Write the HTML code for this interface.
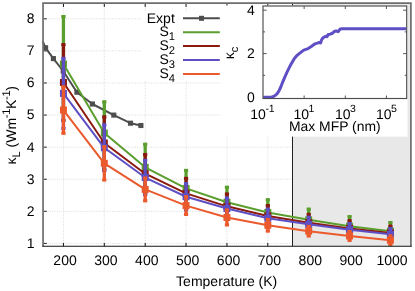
<!DOCTYPE html>
<html lang="en"><head><meta charset="utf-8"><title>Thermal conductivity vs temperature</title>
<style>html,body{margin:0;padding:0;background:#fff;}svg{display:block;will-change:transform;}text{text-rendering:geometricPrecision;}</style></head>
<body>
<svg width="415" height="291" viewBox="0 0 415 291" font-family="'Liberation Sans', sans-serif" font-size="14.0px" fill="#000">
<rect x="0" y="0" width="415" height="291" fill="#fff"/>
<g stroke="#dbdbdb" stroke-width="1" stroke-dasharray="1,1.3" fill="none">
<line x1="63.44" y1="3.1" x2="63.44" y2="246.25"/>
<line x1="104.31" y1="3.1" x2="104.31" y2="246.25"/>
<line x1="145.19" y1="3.1" x2="145.19" y2="246.25"/>
<line x1="186.06" y1="3.1" x2="186.06" y2="246.25"/>
<line x1="226.94" y1="3.1" x2="226.94" y2="246.25"/>
<line x1="267.81" y1="3.1" x2="267.81" y2="246.25"/>
<line x1="308.68" y1="3.1" x2="308.68" y2="246.25"/>
<line x1="349.56" y1="3.1" x2="349.56" y2="246.25"/>
<line x1="390.43" y1="3.1" x2="390.43" y2="246.25"/>
<line x1="43.0" y1="243.43" x2="410.87" y2="243.43"/>
<line x1="43.0" y1="211.34" x2="410.87" y2="211.34"/>
<line x1="43.0" y1="179.25" x2="410.87" y2="179.25"/>
<line x1="43.0" y1="147.16" x2="410.87" y2="147.16"/>
<line x1="43.0" y1="115.07" x2="410.87" y2="115.07"/>
<line x1="43.0" y1="82.98" x2="410.87" y2="82.98"/>
<line x1="43.0" y1="50.89" x2="410.87" y2="50.89"/>
<line x1="43.0" y1="18.80" x2="410.87" y2="18.80"/>
</g>
<g stroke="#111" stroke-width="1">
<line x1="63.44" y1="3.9000000000000004" x2="63.44" y2="6.9"/>
<line x1="63.44" y1="246.25" x2="63.44" y2="242.95"/>
<line x1="104.31" y1="3.9000000000000004" x2="104.31" y2="6.9"/>
<line x1="104.31" y1="246.25" x2="104.31" y2="242.95"/>
<line x1="145.19" y1="3.9000000000000004" x2="145.19" y2="6.9"/>
<line x1="145.19" y1="246.25" x2="145.19" y2="242.95"/>
<line x1="186.06" y1="3.9000000000000004" x2="186.06" y2="6.9"/>
<line x1="186.06" y1="246.25" x2="186.06" y2="242.95"/>
<line x1="226.94" y1="3.9000000000000004" x2="226.94" y2="6.9"/>
<line x1="226.94" y1="246.25" x2="226.94" y2="242.95"/>
<line x1="267.81" y1="3.9000000000000004" x2="267.81" y2="6.9"/>
<line x1="267.81" y1="246.25" x2="267.81" y2="242.95"/>
<line x1="308.68" y1="3.9000000000000004" x2="308.68" y2="6.9"/>
<line x1="308.68" y1="246.25" x2="308.68" y2="242.95"/>
<line x1="349.56" y1="3.9000000000000004" x2="349.56" y2="6.9"/>
<line x1="349.56" y1="246.25" x2="349.56" y2="242.95"/>
<line x1="390.43" y1="3.9000000000000004" x2="390.43" y2="6.9"/>
<line x1="390.43" y1="246.25" x2="390.43" y2="242.95"/>
</g>
<g stroke="#333" stroke-width="1.1">
<line x1="43.849999999999994" y1="243.43" x2="46.75" y2="243.43"/>
<line x1="43.849999999999994" y1="211.34" x2="46.75" y2="211.34"/>
<line x1="43.849999999999994" y1="179.25" x2="46.75" y2="179.25"/>
<line x1="43.849999999999994" y1="147.16" x2="46.75" y2="147.16"/>
<line x1="43.849999999999994" y1="115.07" x2="46.75" y2="115.07"/>
<line x1="43.849999999999994" y1="82.98" x2="46.75" y2="82.98"/>
<line x1="43.849999999999994" y1="50.89" x2="46.75" y2="50.89"/>
<line x1="43.849999999999994" y1="18.80" x2="46.75" y2="18.80"/>
</g>
<rect x="292.5" y="3.1" width="118.37" height="243.15" fill="#e8e8e8"/>
<line x1="292.5" y1="3.1" x2="292.5" y2="246.25" stroke="#222" stroke-width="1"/>
<g stroke="#4d4d4d" fill="#4d4d4d">
<polyline points="42.75,41.50 45.60,47.80 53.40,58.60 63.20,71.00 76.90,92.20 92.40,104.00 113.80,115.10 130.50,123.20 140.90,125.50" fill="none" stroke-width="2.0" stroke-linejoin="round"/>
<rect x="43.05" y="45.25" width="5.1" height="5.1" stroke="none"/>
<rect x="50.85" y="56.05" width="5.1" height="5.1" stroke="none"/>
<rect x="60.65" y="68.45" width="5.1" height="5.1" stroke="none"/>
<rect x="74.35" y="89.65" width="5.1" height="5.1" stroke="none"/>
<rect x="89.85" y="101.45" width="5.1" height="5.1" stroke="none"/>
<rect x="111.25" y="112.55" width="5.1" height="5.1" stroke="none"/>
<rect x="127.95" y="120.65" width="5.1" height="5.1" stroke="none"/>
<rect x="138.35" y="122.95" width="5.1" height="5.1" stroke="none"/>
</g>
<g stroke="#5a9e2e" fill="#5a9e2e">
<polyline points="63.44,63.94 104.31,133.06 145.19,167.30 186.06,188.42 226.94,202.18 267.81,212.42 308.68,219.78 349.56,226.18 390.43,231.14" fill="none" stroke-width="2.0" stroke-linejoin="round"/>
<line x1="63.44" y1="14.98" x2="63.44" y2="112.90" stroke-width="3.3"/>
<rect x="61.34" y="14.98" width="4.2" height="3" stroke="none"/>
<rect x="61.34" y="109.90" width="4.2" height="3" stroke="none"/>
<rect x="59.94" y="60.44" width="7" height="7" stroke="none"/>
<line x1="104.31" y1="100.42" x2="104.31" y2="165.70" stroke-width="3.3"/>
<rect x="102.21" y="100.42" width="4.2" height="3" stroke="none"/>
<rect x="102.21" y="162.70" width="4.2" height="3" stroke="none"/>
<rect x="100.81" y="129.56" width="7" height="7" stroke="none"/>
<line x1="145.19" y1="142.79" x2="145.19" y2="191.81" stroke-width="3.3"/>
<rect x="143.09" y="142.79" width="4.2" height="3" stroke="none"/>
<rect x="143.09" y="188.81" width="4.2" height="3" stroke="none"/>
<rect x="141.69" y="163.80" width="7" height="7" stroke="none"/>
<line x1="186.06" y1="168.90" x2="186.06" y2="207.94" stroke-width="3.3"/>
<rect x="183.96" y="168.90" width="4.2" height="3" stroke="none"/>
<rect x="183.96" y="204.94" width="4.2" height="3" stroke="none"/>
<rect x="182.56" y="184.92" width="7" height="7" stroke="none"/>
<line x1="226.94" y1="185.80" x2="226.94" y2="218.56" stroke-width="3.3"/>
<rect x="224.84" y="185.80" width="4.2" height="3" stroke="none"/>
<rect x="224.84" y="215.56" width="4.2" height="3" stroke="none"/>
<rect x="223.44" y="198.68" width="7" height="7" stroke="none"/>
<line x1="267.81" y1="198.31" x2="267.81" y2="226.53" stroke-width="3.3"/>
<rect x="265.71" y="198.31" width="4.2" height="3" stroke="none"/>
<rect x="265.71" y="223.53" width="4.2" height="3" stroke="none"/>
<rect x="264.31" y="208.92" width="7" height="7" stroke="none"/>
<line x1="308.68" y1="207.70" x2="308.68" y2="231.86" stroke-width="3.3"/>
<rect x="306.58" y="207.70" width="4.2" height="3" stroke="none"/>
<rect x="306.58" y="228.86" width="4.2" height="3" stroke="none"/>
<rect x="305.18" y="216.28" width="7" height="7" stroke="none"/>
<line x1="349.56" y1="215.11" x2="349.56" y2="237.25" stroke-width="3.3"/>
<rect x="347.46" y="215.11" width="4.2" height="3" stroke="none"/>
<rect x="347.46" y="234.25" width="4.2" height="3" stroke="none"/>
<rect x="346.06" y="222.68" width="7" height="7" stroke="none"/>
<line x1="390.43" y1="221.00" x2="390.43" y2="241.28" stroke-width="3.3"/>
<rect x="388.33" y="221.00" width="4.2" height="3" stroke="none"/>
<rect x="388.33" y="238.28" width="4.2" height="3" stroke="none"/>
<rect x="386.93" y="227.64" width="7" height="7" stroke="none"/>
</g>
<g stroke="#8b1a0e" fill="#8b1a0e">
<polyline points="63.44,82.50 104.31,142.98 145.19,173.70 186.06,193.38 226.94,206.34 267.81,215.94 308.68,222.66 349.56,228.42 390.43,232.90" fill="none" stroke-width="2.0" stroke-linejoin="round"/>
<line x1="63.44" y1="43.14" x2="63.44" y2="121.86" stroke-width="3.3"/>
<rect x="61.34" y="43.14" width="4.2" height="3" stroke="none"/>
<rect x="61.34" y="118.86" width="4.2" height="3" stroke="none"/>
<rect x="59.94" y="79.00" width="7" height="7" stroke="none"/>
<line x1="104.31" y1="115.46" x2="104.31" y2="170.50" stroke-width="3.3"/>
<rect x="102.21" y="115.46" width="4.2" height="3" stroke="none"/>
<rect x="102.21" y="167.50" width="4.2" height="3" stroke="none"/>
<rect x="100.81" y="139.48" width="7" height="7" stroke="none"/>
<line x1="145.19" y1="153.09" x2="145.19" y2="194.31" stroke-width="3.3"/>
<rect x="143.09" y="153.09" width="4.2" height="3" stroke="none"/>
<rect x="143.09" y="191.31" width="4.2" height="3" stroke="none"/>
<rect x="141.69" y="170.20" width="7" height="7" stroke="none"/>
<line x1="186.06" y1="176.90" x2="186.06" y2="209.86" stroke-width="3.3"/>
<rect x="183.96" y="176.90" width="4.2" height="3" stroke="none"/>
<rect x="183.96" y="206.86" width="4.2" height="3" stroke="none"/>
<rect x="182.56" y="189.88" width="7" height="7" stroke="none"/>
<line x1="226.94" y1="192.58" x2="226.94" y2="220.10" stroke-width="3.3"/>
<rect x="224.84" y="192.58" width="4.2" height="3" stroke="none"/>
<rect x="224.84" y="217.10" width="4.2" height="3" stroke="none"/>
<rect x="223.44" y="202.84" width="7" height="7" stroke="none"/>
<line x1="267.81" y1="204.10" x2="267.81" y2="227.78" stroke-width="3.3"/>
<rect x="265.71" y="204.10" width="4.2" height="3" stroke="none"/>
<rect x="265.71" y="224.78" width="4.2" height="3" stroke="none"/>
<rect x="264.31" y="212.44" width="7" height="7" stroke="none"/>
<line x1="308.68" y1="212.90" x2="308.68" y2="232.42" stroke-width="3.3"/>
<rect x="306.58" y="212.90" width="4.2" height="3" stroke="none"/>
<rect x="306.58" y="229.42" width="4.2" height="3" stroke="none"/>
<rect x="305.18" y="219.16" width="7" height="7" stroke="none"/>
<line x1="349.56" y1="219.20" x2="349.56" y2="237.64" stroke-width="3.3"/>
<rect x="347.46" y="219.20" width="4.2" height="3" stroke="none"/>
<rect x="347.46" y="234.64" width="4.2" height="3" stroke="none"/>
<rect x="346.06" y="224.92" width="7" height="7" stroke="none"/>
<line x1="390.43" y1="224.71" x2="390.43" y2="241.09" stroke-width="3.3"/>
<rect x="388.33" y="224.71" width="4.2" height="3" stroke="none"/>
<rect x="388.33" y="238.09" width="4.2" height="3" stroke="none"/>
<rect x="386.93" y="229.40" width="7" height="7" stroke="none"/>
</g>
<g stroke="#5e4fc5" fill="#5e4fc5">
<polyline points="63.44,93.38 104.31,147.78 145.19,177.54 186.06,196.74 226.94,208.58 267.81,218.18 308.68,224.26 349.56,229.70 390.43,234.34" fill="none" stroke-width="2.0" stroke-linejoin="round"/>
<line x1="63.44" y1="56.90" x2="63.44" y2="129.86" stroke-width="3.3"/>
<rect x="61.34" y="56.90" width="4.2" height="3" stroke="none"/>
<rect x="61.34" y="126.86" width="4.2" height="3" stroke="none"/>
<rect x="59.94" y="89.88" width="7" height="7" stroke="none"/>
<line x1="104.31" y1="123.46" x2="104.31" y2="172.10" stroke-width="3.3"/>
<rect x="102.21" y="123.46" width="4.2" height="3" stroke="none"/>
<rect x="102.21" y="169.10" width="4.2" height="3" stroke="none"/>
<rect x="100.81" y="144.28" width="7" height="7" stroke="none"/>
<line x1="145.19" y1="158.90" x2="145.19" y2="196.18" stroke-width="3.3"/>
<rect x="143.09" y="158.90" width="4.2" height="3" stroke="none"/>
<rect x="143.09" y="193.18" width="4.2" height="3" stroke="none"/>
<rect x="141.69" y="174.04" width="7" height="7" stroke="none"/>
<line x1="186.06" y1="182.02" x2="186.06" y2="211.46" stroke-width="3.3"/>
<rect x="183.96" y="182.02" width="4.2" height="3" stroke="none"/>
<rect x="183.96" y="208.46" width="4.2" height="3" stroke="none"/>
<rect x="182.56" y="193.24" width="7" height="7" stroke="none"/>
<line x1="226.94" y1="196.61" x2="226.94" y2="220.55" stroke-width="3.3"/>
<rect x="224.84" y="196.61" width="4.2" height="3" stroke="none"/>
<rect x="224.84" y="217.55" width="4.2" height="3" stroke="none"/>
<rect x="223.44" y="205.08" width="7" height="7" stroke="none"/>
<line x1="267.81" y1="207.72" x2="267.81" y2="228.64" stroke-width="3.3"/>
<rect x="265.71" y="207.72" width="4.2" height="3" stroke="none"/>
<rect x="265.71" y="225.64" width="4.2" height="3" stroke="none"/>
<rect x="264.31" y="214.68" width="7" height="7" stroke="none"/>
<line x1="308.68" y1="215.81" x2="308.68" y2="232.71" stroke-width="3.3"/>
<rect x="306.58" y="215.81" width="4.2" height="3" stroke="none"/>
<rect x="306.58" y="229.71" width="4.2" height="3" stroke="none"/>
<rect x="305.18" y="220.76" width="7" height="7" stroke="none"/>
<line x1="349.56" y1="222.02" x2="349.56" y2="237.38" stroke-width="3.3"/>
<rect x="347.46" y="222.02" width="4.2" height="3" stroke="none"/>
<rect x="347.46" y="234.38" width="4.2" height="3" stroke="none"/>
<rect x="346.06" y="226.20" width="7" height="7" stroke="none"/>
<line x1="390.43" y1="227.01" x2="390.43" y2="241.67" stroke-width="3.3"/>
<rect x="388.33" y="227.01" width="4.2" height="3" stroke="none"/>
<rect x="388.33" y="238.67" width="4.2" height="3" stroke="none"/>
<rect x="386.93" y="230.84" width="7" height="7" stroke="none"/>
</g>
<g stroke="#eb5a2d" fill="#eb5a2d">
<polyline points="63.44,110.02 104.31,163.30 145.19,189.44 186.06,205.60 226.94,217.44 267.81,225.22 308.68,231.14 349.56,235.94 390.43,240.20" fill="none" stroke-width="2.0" stroke-linejoin="round"/>
<line x1="63.44" y1="85.38" x2="63.44" y2="134.66" stroke-width="3.3"/>
<rect x="61.34" y="85.38" width="4.2" height="3" stroke="none"/>
<rect x="61.34" y="131.66" width="4.2" height="3" stroke="none"/>
<rect x="59.94" y="106.52" width="7" height="7" stroke="none"/>
<line x1="104.31" y1="145.22" x2="104.31" y2="181.38" stroke-width="3.3"/>
<rect x="102.21" y="145.22" width="4.2" height="3" stroke="none"/>
<rect x="102.21" y="178.38" width="4.2" height="3" stroke="none"/>
<rect x="100.81" y="159.80" width="7" height="7" stroke="none"/>
<line x1="145.19" y1="176.64" x2="145.19" y2="202.24" stroke-width="3.3"/>
<rect x="143.09" y="176.64" width="4.2" height="3" stroke="none"/>
<rect x="143.09" y="199.24" width="4.2" height="3" stroke="none"/>
<rect x="141.69" y="185.94" width="7" height="7" stroke="none"/>
<line x1="186.06" y1="195.30" x2="186.06" y2="215.91" stroke-width="3.3"/>
<rect x="183.96" y="195.30" width="4.2" height="3" stroke="none"/>
<rect x="183.96" y="212.91" width="4.2" height="3" stroke="none"/>
<rect x="182.56" y="202.10" width="7" height="7" stroke="none"/>
<line x1="226.94" y1="208.58" x2="226.94" y2="226.31" stroke-width="3.3"/>
<rect x="224.84" y="208.58" width="4.2" height="3" stroke="none"/>
<rect x="224.84" y="223.31" width="4.2" height="3" stroke="none"/>
<rect x="223.44" y="213.94" width="7" height="7" stroke="none"/>
<line x1="267.81" y1="217.99" x2="267.81" y2="232.45" stroke-width="3.3"/>
<rect x="265.71" y="217.99" width="4.2" height="3" stroke="none"/>
<rect x="265.71" y="229.45" width="4.2" height="3" stroke="none"/>
<rect x="264.31" y="221.72" width="7" height="7" stroke="none"/>
<line x1="308.68" y1="224.90" x2="308.68" y2="237.38" stroke-width="3.3"/>
<rect x="306.58" y="224.90" width="4.2" height="3" stroke="none"/>
<rect x="306.58" y="234.38" width="4.2" height="3" stroke="none"/>
<rect x="305.18" y="227.64" width="7" height="7" stroke="none"/>
<line x1="349.56" y1="230.02" x2="349.56" y2="241.86" stroke-width="3.3"/>
<rect x="347.46" y="230.02" width="4.2" height="3" stroke="none"/>
<rect x="347.46" y="238.86" width="4.2" height="3" stroke="none"/>
<rect x="346.06" y="232.44" width="7" height="7" stroke="none"/>
<line x1="390.43" y1="234.50" x2="390.43" y2="245.89" stroke-width="3.3"/>
<rect x="388.33" y="234.50" width="4.2" height="3" stroke="none"/>
<rect x="388.33" y="242.89" width="4.2" height="3" stroke="none"/>
<rect x="386.93" y="236.70" width="7" height="7" stroke="none"/>
</g>
<rect x="142" y="12" width="78.5" height="69" fill="#fff"/>
<line x1="183" y1="18.3" x2="219.8" y2="18.3" stroke="#4d4d4d" stroke-width="2.0"/>
<rect x="199.0" y="15.8" width="5" height="5" fill="#4d4d4d"/>
<line x1="183" y1="32.25" x2="219.8" y2="32.25" stroke="#5a9e2e" stroke-width="2.0"/>
<line x1="183" y1="46.1" x2="219.8" y2="46.1" stroke="#8b1a0e" stroke-width="2.0"/>
<line x1="183" y1="60.1" x2="219.8" y2="60.1" stroke="#5e4fc5" stroke-width="2.0"/>
<line x1="183" y1="74.1" x2="219.8" y2="74.1" stroke="#eb5a2d" stroke-width="2.0"/>
<text x="174.8" y="22.8" text-anchor="end">Expt</text>
<text x="175.0" y="36.05" text-anchor="end">S<tspan dy="4.0" font-size="11.2px">1</tspan></text>
<text x="175.0" y="49.90" text-anchor="end">S<tspan dy="4.0" font-size="11.2px">2</tspan></text>
<text x="175.0" y="63.90" text-anchor="end">S<tspan dy="4.0" font-size="11.2px">3</tspan></text>
<text x="175.0" y="77.90" text-anchor="end">S<tspan dy="4.0" font-size="11.2px">4</tspan></text>
<rect x="220.5" y="5.5" width="187.00" height="131.10" fill="#fff"/>
<g stroke="#444" stroke-width="0.9">
<line x1="304.14" y1="98.5" x2="304.14" y2="95.5"/>
<line x1="304.14" y1="6.0" x2="304.14" y2="9.0"/>
<line x1="345.29" y1="98.5" x2="345.29" y2="95.5"/>
<line x1="345.29" y1="6.0" x2="345.29" y2="9.0"/>
<line x1="386.43" y1="98.5" x2="386.43" y2="95.5"/>
<line x1="386.43" y1="6.0" x2="386.43" y2="9.0"/>
<line x1="263.0" y1="75.30" x2="265.0" y2="75.30"/>
<line x1="406.7" y1="75.30" x2="404.7" y2="75.30"/>
<line x1="263.0" y1="53.60" x2="266.6" y2="53.60"/>
<line x1="406.7" y1="53.60" x2="403.09999999999997" y2="53.60"/>
<line x1="263.0" y1="31.90" x2="265.0" y2="31.90"/>
<line x1="406.7" y1="31.90" x2="404.7" y2="31.90"/>
<line x1="263.0" y1="10.20" x2="266.6" y2="10.20"/>
<line x1="406.7" y1="10.20" x2="403.09999999999997" y2="10.20"/>
</g>
<polyline points="263.20,97.30 268.00,97.30 271.30,97.15 273.50,96.45 275.50,95.25 277.40,93.35 279.20,90.45 280.90,86.75 282.50,82.55 284.60,77.55 286.80,72.65 289.00,68.15 291.00,64.25 292.80,61.15 294.40,58.55 296.50,55.95 298.90,53.85 300.50,52.60 303.76,50.08 308.15,48.57 311.28,46.57 315.04,43.81 318.80,42.56 320.68,42.93 321.55,39.80 323.18,37.54 325.69,36.29 326.94,36.67 328.20,34.41 330.08,34.16 331.95,33.53 334.46,31.28 336.34,31.03 338.22,31.65 340.10,29.02 342.61,28.65 406.50,28.85" fill="none" stroke="#5e4fc5" stroke-width="3.0" stroke-linejoin="round" stroke-linecap="butt"/>
<rect x="263.0" y="6.0" width="143.7" height="92.5" fill="none" stroke="#4c4c4c" stroke-width="1.15"/>
<text x="254.8" y="101.50" text-anchor="end">0</text>
<text x="254.8" y="58.30" text-anchor="end">2</text>
<text x="254.8" y="15.10" text-anchor="end">4</text>
<text x="250.3" y="118.9">10<tspan dy="-6.8" dx="-0.5" font-size="10.5px">-1</tspan></text>
<text x="293.4" y="118.9">10<tspan dy="-6.8" dx="-0.5" font-size="10.5px">1</tspan></text>
<text x="335.0" y="118.9">10<tspan dy="-6.8" dx="-0.5" font-size="10.5px">3</tspan></text>
<text x="375.9" y="118.9">10<tspan dy="-6.8" dx="-0.5" font-size="10.5px">5</tspan></text>
<text x="289.0" y="131.2" font-size="13.9px">Max MFP (nm)</text>
<text transform="translate(234.3,59.2) rotate(-90)">κ<tspan dy="4" font-size="11.2px">c</tspan></text>
<polyline points="43.05,246.25 43.05,3.1 410.9,3.1 410.9,246.25" fill="none" stroke="#6e6e6e" stroke-width="1.7"/>
<line x1="42.199999999999996" y1="246.25" x2="411.75" y2="246.25" stroke="#151515" stroke-width="1.2"/>
<text x="34.6" y="247.83" text-anchor="end">1</text>
<text x="34.6" y="215.74" text-anchor="end">2</text>
<text x="34.6" y="183.65" text-anchor="end">3</text>
<text x="34.6" y="151.56" text-anchor="end">4</text>
<text x="34.6" y="119.47" text-anchor="end">5</text>
<text x="34.6" y="87.38" text-anchor="end">6</text>
<text x="34.6" y="55.29" text-anchor="end">7</text>
<text x="34.6" y="23.20" text-anchor="end">8</text>
<text x="65.04" y="264.7" text-anchor="middle">200</text>
<text x="105.91" y="264.7" text-anchor="middle">300</text>
<text x="146.79" y="264.7" text-anchor="middle">400</text>
<text x="187.66" y="264.7" text-anchor="middle">500</text>
<text x="228.53" y="264.7" text-anchor="middle">600</text>
<text x="269.41" y="264.7" text-anchor="middle">700</text>
<text x="310.28" y="264.7" text-anchor="middle">800</text>
<text x="351.16" y="264.7" text-anchor="middle">900</text>
<text x="392.03" y="264.7" text-anchor="middle">1000</text>
<text x="226.7" y="286.2" text-anchor="middle">Temperature (K)</text>
<text transform="translate(16.3,164.6) rotate(-90)">κ<tspan dy="3.5" font-size="11.2px">L</tspan><tspan dy="-3.5"> (Wm</tspan><tspan dy="-6" dx="-0.3" font-size="11.2px" letter-spacing="-0.3">-1</tspan><tspan dy="6" dx="-0.2">K</tspan><tspan dy="-6" dx="-0.3" font-size="11.2px" letter-spacing="-0.3">-1</tspan><tspan dy="6">)</tspan></text>
</svg>
</body></html>
